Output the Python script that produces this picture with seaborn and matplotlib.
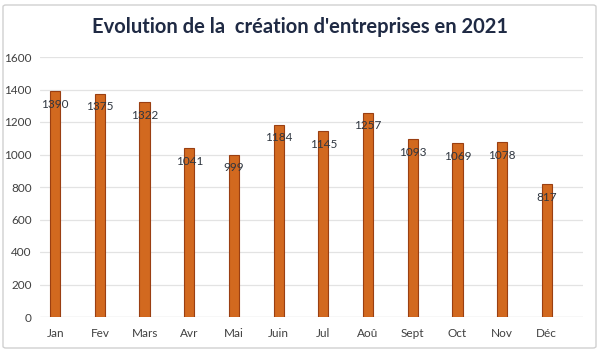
import pandas as pd
import matplotlib.pyplot as plt
import matplotlib.patches as mpatches
import seaborn as sns

months = ['Jan', 'Fev', 'Mars', 'Avr', 'Mai', 'Juin', 'Jul', 'Aoû', 'Sept', 'Oct', 'Nov', 'Déc']
creations = [1390, 1375, 1322, 1041, 999, 1184, 1145, 1257, 1093, 1069, 1078, 817]

df = pd.DataFrame({'mois': months, 'creations': creations})

sns.set_theme(style='white')
plt.rcParams['font.family'] = ['Lato', 'DejaVu Sans']

fig = plt.figure(figsize=(6, 3.53), dpi=100)
ax = fig.add_axes([40/600, 1 - 317/353, 543/600, 260/353])

sns.barplot(data=df, x='mois', y='creations', ax=ax, width=0.23,
            color='#D2691F', edgecolor='#9A3F12', linewidth=0.8, saturation=1)

ax.set_ylim(0, 1600)
ax.set_xlim(-0.34, 11.81)
ax.set_yticks(range(0, 1601, 200))
ax.yaxis.grid(True, color='#E3E3E3', linewidth=0.9)
ax.set_axisbelow(True)
for s in ax.spines.values():
    s.set_visible(False)
ax.axhline(0, color='#D9D9D9', linewidth=0.9, zorder=0)
ax.set_xlabel('')
ax.set_ylabel('')
ax.tick_params(axis='both', length=0, labelsize=8.5, labelcolor='#404040')
ax.tick_params(axis='y', pad=6)
ax.tick_params(axis='x', pad=8)

# value labels just under the top of each bar
for p, v in zip(ax.patches, creations):
    ax.annotate(f'{v}', (p.get_x() + p.get_width() / 2, p.get_height()),
                xytext=(0, -9.5), textcoords='offset points',
                ha='center', va='center', fontsize=8.5, color='#2F3640')

fig.text(0.5, 1 - 27/353, "Evolution de la  création d'entreprises en 2021",
         ha='center', va='center', fontsize=14.5, fontweight='bold', color='#1F2A44')

# light chart frame
frame = mpatches.FancyBboxPatch((3/600, 5/353), 593/600, 343/353,
                                boxstyle='round,pad=0,rounding_size=0.005',
                                transform=fig.transFigure, fill=False,
                                edgecolor='#D0D0D0', linewidth=1)
fig.patches.append(frame)

plt.savefig('out.png', dpi=100)
